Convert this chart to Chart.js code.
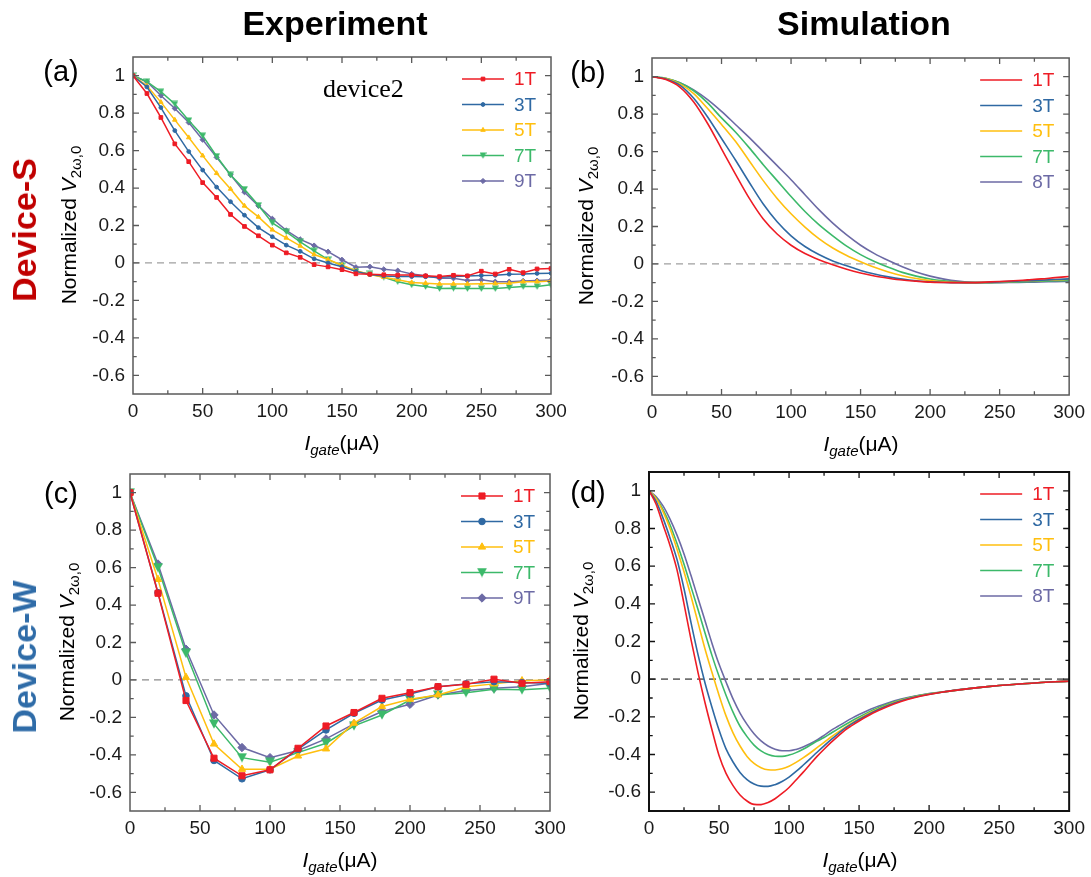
<!DOCTYPE html>
<html>
<head>
<meta charset="utf-8">
<script src="https://cdn.jsdelivr.net/npm/chart.js@4.4.1/dist/chart.umd.min.js"></script>
<style>
  body { margin: 0; width: 1091px; height: 877px; position: relative; overflow: hidden; background: #fff;
         font-family: "Liberation Sans", Arial, sans-serif; }
  canvas { position: absolute; }
  .t { position: absolute; white-space: nowrap; line-height: 1; color: #000; }
  .big { font-weight: bold; font-size: 34px; transform: translate(-50%, -50%); }
  .side { font-weight: bold; font-size: 34px; transform: translate(-50%, -50%) rotate(-90deg); }
  .plab { font-size: 29px; transform: translate(-50%, -50%); }
  .ytit { font-size: 21px; transform: translate(-50%, -50%) rotate(-90deg); }
  .xtit { font-size: 21px; transform: translateX(-50%); }
  .sub { font-size: 15px; position: relative; top: 5px; }
</style>
</head>
<body>
<canvas id="cA" width="580" height="440" style="left:0;top:0"></canvas>
<canvas id="cB" width="511" height="440" style="left:580px;top:0"></canvas>
<canvas id="cC" width="580" height="437" style="left:0;top:440px"></canvas>
<canvas id="cD" width="511" height="437" style="left:580px;top:440px"></canvas>

<div class="t big" style="left:335px;top:23px">Experiment</div>
<div class="t big" style="left:864px;top:23px">Simulation</div>
<div class="t side" style="left:24px;top:230px;color:#c00000">Device-S</div>
<div class="t side" style="left:24px;top:657px;color:#2f6ca8">Device-W</div>

<div class="t plab" style="left:61px;top:71px">(a)</div>
<div class="t plab" style="left:588px;top:72px">(b)</div>
<div class="t plab" style="left:61px;top:493px">(c)</div>
<div class="t plab" style="left:588px;top:492px">(d)</div>

<div class="t ytit" style="left:68px;top:225px">Normalized <i>V</i><span class="sub">2ω,0</span></div>
<div class="t ytit" style="left:585px;top:226px">Normalized <i>V</i><span class="sub">2ω,0</span></div>
<div class="t ytit" style="left:66px;top:642px">Normalized <i>V</i><span class="sub">2ω,0</span></div>
<div class="t ytit" style="left:580px;top:641px">Normalized <i>V</i><span class="sub">2ω,0</span></div>

<div class="t xtit" style="left:342px;top:432px"><i>I</i><span class="sub"><i>gate</i></span>(μA)</div>
<div class="t xtit" style="left:861px;top:433px"><i>I</i><span class="sub"><i>gate</i></span>(μA)</div>
<div class="t xtit" style="left:340px;top:849px"><i>I</i><span class="sub"><i>gate</i></span>(μA)</div>
<div class="t xtit" style="left:860px;top:849px"><i>I</i><span class="sub"><i>gate</i></span>(μA)</div>

<div class="t" style="left:323px;top:76px;font-family:'Liberation Serif','Times New Roman',serif;font-size:26px">device2</div>

<script>
// ---- data ----
const xA = [0, 10, 20, 30, 40, 50, 60, 70, 80, 90, 100, 110, 120, 130, 140, 150, 160, 170, 180, 190, 200, 210, 220, 230, 240, 250, 260, 270, 280, 290, 300];
const a1T = [1, 0.905, 0.777, 0.636, 0.541, 0.429, 0.35, 0.259, 0.195, 0.145, 0.095, 0.054, 0.03, -0.009, -0.021, -0.036, -0.058, -0.06, -0.063, -0.065, -0.065, -0.069, -0.073, -0.066, -0.069, -0.044, -0.059, -0.034, -0.052, -0.032, -0.03];
const a3T = [1, 0.94, 0.83, 0.707, 0.595, 0.496, 0.405, 0.327, 0.255, 0.189, 0.14, 0.095, 0.062, 0.022, 0, -0.02, -0.045, -0.062, -0.07, -0.073, -0.073, -0.074, -0.076, -0.073, -0.07, -0.067, -0.066, -0.06, -0.059, -0.056, -0.055];
const a5T = [1, 0.946, 0.859, 0.764, 0.67, 0.573, 0.479, 0.395, 0.305, 0.246, 0.177, 0.134, 0.091, 0.045, 0.018, -0.012, -0.042, -0.062, -0.076, -0.09, -0.104, -0.108, -0.112, -0.112, -0.112, -0.111, -0.11, -0.108, -0.1, -0.1, -0.096];
const a7T = [1, 0.968, 0.915, 0.849, 0.761, 0.68, 0.57, 0.47, 0.394, 0.308, 0.214, 0.166, 0.112, 0.065, 0.018, -0.014, -0.045, -0.059, -0.076, -0.1, -0.117, -0.126, -0.137, -0.135, -0.137, -0.137, -0.137, -0.131, -0.126, -0.126, -0.117];
const a9T = [1, 0.968, 0.894, 0.825, 0.75, 0.658, 0.564, 0.471, 0.378, 0.305, 0.236, 0.174, 0.126, 0.093, 0.06, 0.017, -0.023, -0.02, -0.034, -0.041, -0.059, -0.069, -0.082, -0.082, -0.094, -0.09, -0.1, -0.1, -0.096, -0.094, -0.091];

const xB = xA;
const b1T = [1, 0.985, 0.945, 0.865, 0.75, 0.615, 0.48, 0.35, 0.24, 0.16, 0.1, 0.056, 0.023, -0.004, -0.028, -0.048, -0.064, -0.076, -0.086, -0.092, -0.097, -0.099, -0.1, -0.1, -0.097, -0.094, -0.09, -0.085, -0.08, -0.073, -0.067];
const b3T = [1, 0.988, 0.955, 0.885, 0.785, 0.67, 0.555, 0.435, 0.32, 0.225, 0.15, 0.093, 0.05, 0.016, -0.01, -0.035, -0.054, -0.069, -0.081, -0.09, -0.096, -0.099, -0.1, -0.1, -0.099, -0.096, -0.093, -0.09, -0.087, -0.083, -0.08];
const b5T = [1, 0.99, 0.962, 0.91, 0.83, 0.745, 0.655, 0.55, 0.445, 0.35, 0.268, 0.197, 0.135, 0.085, 0.045, 0.012, -0.018, -0.043, -0.063, -0.078, -0.089, -0.096, -0.099, -0.1, -0.099, -0.097, -0.094, -0.091, -0.088, -0.085, -0.082];
const b7T = [1, 0.992, 0.968, 0.925, 0.86, 0.78, 0.705, 0.62, 0.53, 0.445, 0.36, 0.28, 0.21, 0.15, 0.095, 0.05, 0.013, -0.018, -0.045, -0.065, -0.08, -0.09, -0.097, -0.1, -0.1, -0.099, -0.097, -0.095, -0.092, -0.09, -0.088];
const b8T = [1, 0.99, 0.968, 0.93, 0.878, 0.815, 0.745, 0.675, 0.6, 0.525, 0.45, 0.37, 0.29, 0.218, 0.155, 0.1, 0.055, 0.018, -0.015, -0.043, -0.065, -0.081, -0.092, -0.098, -0.1, -0.1, -0.099, -0.098, -0.096, -0.095, -0.093];

const xC = [0, 20, 40, 60, 80, 100, 120, 140, 160, 180, 200, 220, 240, 260, 280, 300];
const c1T = [1, 0.463, -0.11, -0.418, -0.512, -0.48, -0.365, -0.246, -0.174, -0.098, -0.068, -0.036, -0.023, 0.004, -0.018, -0.009];
const c3T = [1, 0.466, -0.085, -0.43, -0.528, -0.48, -0.37, -0.267, -0.178, -0.107, -0.075, -0.036, -0.021, -0.009, -0.014, -0.018];
const c5T = [1, 0.537, 0.014, -0.342, -0.477, -0.477, -0.406, -0.368, -0.231, -0.142, -0.103, -0.08, -0.036, -0.021, -0.004, 0];
const c7T = [1, 0.6, 0.142, -0.235, -0.415, -0.44, -0.388, -0.338, -0.245, -0.187, -0.107, -0.08, -0.068, -0.05, -0.053, -0.044];
const c9T = [1, 0.619, 0.164, -0.187, -0.361, -0.415, -0.377, -0.315, -0.235, -0.169, -0.13, -0.08, -0.057, -0.044, -0.036, -0.018];

const xD = [0, 5, 10, 15, 20, 25, 30, 35, 40, 45, 50, 55, 60, 65, 70, 75, 80, 85, 90, 95, 100, 105, 110, 115, 120, 125, 130, 135, 140, 145, 150,
            160, 170, 180, 190, 200, 210, 220, 230, 240, 250, 260, 270, 280, 290, 300];
const d1T = [1, 0.93, 0.82, 0.71, 0.58, 0.4, 0.21, 0.035, -0.125, -0.27, -0.405, -0.5, -0.565, -0.615, -0.647, -0.665, -0.666, -0.655, -0.635, -0.607, -0.575, -0.535, -0.495, -0.452, -0.41, -0.372, -0.336, -0.302, -0.27, -0.245, -0.222,
             -0.18, -0.146, -0.118, -0.097, -0.081, -0.068, -0.058, -0.049, -0.041, -0.034, -0.028, -0.023, -0.018, -0.014, -0.011];
const d3T = [1, 0.945, 0.855, 0.75, 0.635, 0.48, 0.3, 0.13, -0.02, -0.15, -0.27, -0.37, -0.44, -0.495, -0.533, -0.557, -0.568, -0.569, -0.56, -0.543, -0.52, -0.49, -0.457, -0.423, -0.388, -0.354, -0.321, -0.29, -0.26, -0.236, -0.214,
             -0.174, -0.141, -0.115, -0.095, -0.08, -0.068, -0.058, -0.049, -0.041, -0.034, -0.028, -0.023, -0.018, -0.014, -0.011];
const d5T = [1, 0.96, 0.89, 0.8, 0.69, 0.57, 0.44, 0.3, 0.16, 0.035, -0.085, -0.195, -0.285, -0.355, -0.41, -0.447, -0.47, -0.481, -0.482, -0.476, -0.462, -0.442, -0.418, -0.392, -0.364, -0.336, -0.307, -0.281, -0.256, -0.232, -0.21,
             -0.17, -0.138, -0.112, -0.093, -0.079, -0.068, -0.058, -0.049, -0.041, -0.034, -0.028, -0.023, -0.018, -0.014, -0.011];
const d7T = [1, 0.962, 0.9, 0.82, 0.72, 0.61, 0.49, 0.37, 0.245, 0.125, 0.015, -0.085, -0.175, -0.25, -0.305, -0.35, -0.381, -0.4, -0.409, -0.41, -0.403, -0.39, -0.372, -0.351, -0.329, -0.31, -0.287, -0.264, -0.242, -0.221, -0.201,
             -0.163, -0.133, -0.109, -0.091, -0.078, -0.068, -0.058, -0.049, -0.041, -0.034, -0.028, -0.023, -0.018, -0.014, -0.011];
const d8T = [1, 0.97, 0.92, 0.85, 0.765, 0.665, 0.55, 0.43, 0.31, 0.19, 0.08, -0.015, -0.105, -0.18, -0.24, -0.29, -0.328, -0.355, -0.372, -0.38, -0.38, -0.373, -0.36, -0.343, -0.323, -0.298, -0.272, -0.25, -0.228, -0.207, -0.188,
             -0.154, -0.128, -0.106, -0.089, -0.076, -0.067, -0.057, -0.049, -0.041, -0.034, -0.028, -0.023, -0.018, -0.014, -0.011];

const expNames = ['1T', '3T', '5T', '7T', '9T'];
const simNames = ['1T', '3T', '5T', '7T', '8T'];
const colors = ['#ee1c25', '#2f69a3', '#ffbf0f', '#3cb96a', '#6c6aa5'];

const xMajor = [0, 50, 100, 150, 200, 250, 300];
const xMinor = [25, 75, 125, 175, 225, 275];
const yMajor = [-0.6, -0.4, -0.2, 0, 0.2, 0.4, 0.6, 0.8, 1];
const yMinor = [-0.5, -0.3, -0.1, 0.1, 0.3, 0.5, 0.7, 0.9];
const zeroX = [0, 300];
const zeroY = [0, 0];

// ---- helpers ----
Chart.defaults.font.family = '"Liberation Sans", Arial, sans-serif';

function pts(xs, ys) { return xs.map((x, i) => ({ x: x, y: ys[i] })); }

function triDown(size, color) {
  const c = document.createElement('canvas');
  c.width = size; c.height = size;
  const g = c.getContext('2d');
  g.fillStyle = color;
  g.beginPath();
  g.moveTo(0, 0.5); g.lineTo(size, 0.5); g.lineTo(size / 2, size - 0.3);
  g.closePath(); g.fill();
  return c;
}

function makeDeco(cfg) {
  return {
    id: 'deco',
    afterDatasetsDraw(chart) {
      const ctx = chart.ctx, a = chart.chartArea;
      const xs = chart.scales.x, ys = chart.scales.y;
      ctx.save();
      ctx.strokeStyle = cfg.frame;
      ctx.lineWidth = cfg.frameWidth;
      ctx.strokeRect(a.left, a.top, a.right - a.left, a.bottom - a.top);
      // inward ticks on all four sides
      ctx.lineWidth = 1.3;
      ctx.beginPath();
      const xt = (vals, len) => vals.forEach(v => {
        const p = xs.getPixelForValue(v);
        ctx.moveTo(p, a.bottom); ctx.lineTo(p, a.bottom - len);
        ctx.moveTo(p, a.top); ctx.lineTo(p, a.top + len);
      });
      const yt = (vals, len) => vals.forEach(v => {
        const p = ys.getPixelForValue(v);
        ctx.moveTo(a.left, p); ctx.lineTo(a.left + len, p);
        ctx.moveTo(a.right, p); ctx.lineTo(a.right - len, p);
      });
      xt(xMajor.slice(1, -1), 6); xt(xMinor, 3.7);
      yt(yMajor, 6); yt(yMinor, 3.7);
      ctx.stroke();

      // legend: line (+ marker) and coloured label
      ctx.font = '19px "Liberation Sans", Arial, sans-serif';
      ctx.textBaseline = 'middle';
      ctx.textAlign = 'left';
      chart.data.datasets.forEach(ds => {
        if (ds.legendRow === undefined) return;
        const yy = a.top + 22 + ds.legendRow * 25.5;
        ctx.strokeStyle = ds.borderColor;
        ctx.fillStyle = ds.borderColor;
        ctx.lineWidth = ds.borderWidth;
        ctx.setLineDash([]);
        ctx.beginPath();
        ctx.moveTo(a.right - 89, yy); ctx.lineTo(a.right - 47, yy);
        ctx.stroke();
        if (ds.pointRadius > 0 && Chart.helpers && Chart.helpers.drawPoint) {
          ctx.lineWidth = 1;
          Chart.helpers.drawPoint(ctx, { pointStyle: ds.pointStyle, radius: ds.pointRadius, rotation: 0, borderWidth: 1 }, a.right - 68, yy);
        }
        ctx.fillStyle = ds.borderColor;
        ctx.fillText(ds.label, a.right - 37, yy + 1);
      });
      ctx.restore();
    }
  };
}

function makePanel(id, area, canvasBox, series, cfg) {
  const yW = 60, xH = 30;
  const datasets = series.map((s, i) => ({
    label: s.name,
    data: pts(s.x, s.y),
    borderColor: colors[i],
    backgroundColor: colors[i],
    borderWidth: cfg.lineWidth,
    pointStyle: cfg.styles ? cfg.styles[i] : 'circle',
    pointRadius: cfg.styles ? cfg.radii[i] : 0,
    pointBorderWidth: 1,
    pointHoverRadius: 0,
    tension: cfg.smooth ? 0.4 : 0,
    cubicInterpolationMode: cfg.smooth ? 'monotone' : 'default',
    legendRow: i,
    order: 1
  }));
  datasets.push({
    label: 'zero',
    data: pts(zeroX, zeroY),
    borderColor: cfg.zeroColor,
    borderWidth: cfg.zeroWidth,
    borderDash: [7, 5],
    pointRadius: 0,
    pointHoverRadius: 0,
    order: 10
  });
  return new Chart(document.getElementById(id), {
    type: 'line',
    data: { datasets: datasets },
    plugins: [makeDeco(cfg)],
    options: {
      responsive: false,
      animation: false,
      events: [],
      layout: {
        padding: {
          left: area.L - canvasBox.x - yW,
          top: area.T - canvasBox.y,
          right: canvasBox.x + canvasBox.w - area.R,
          bottom: canvasBox.y + canvasBox.h - area.B - xH
        }
      },
      plugins: { legend: { display: false }, tooltip: { enabled: false } },
      scales: {
        x: {
          type: 'linear', min: 0, max: 300,
          grid: { display: false, drawTicks: false },
          border: { display: false },
          afterBuildTicks: s => { s.ticks = xMajor.map(v => ({ value: v })); },
          afterFit: s => { s.height = xH; },
          ticks: { color: '#1a1a1a', font: { size: 19 }, padding: 6, maxRotation: 0, autoSkip: false }
        },
        y: {
          type: 'linear', min: -0.7, max: 1.1,
          grid: { display: false, drawTicks: false },
          border: { display: false },
          afterBuildTicks: s => { s.ticks = yMajor.map(v => ({ value: v })); },
          afterFit: s => { s.width = yW; },
          ticks: {
            color: '#1a1a1a', font: { size: 19 }, padding: 8, autoSkip: false,
            callback: v => String(Math.round(v * 10) / 10)
          }
        }
      }
    }
  });
}

// ---- panels ----
const expStylesA = ['rect', 'circle', 'triangle', triDown(7, colors[3]), 'rectRot'];
const expStylesC = ['rect', 'circle', 'triangle', triDown(10, colors[3]), 'rectRot'];

makePanel('cA', { L: 133, T: 57, R: 551, B: 394 }, { x: 0, y: 0, w: 580, h: 440 },
  [a1T, a3T, a5T, a7T, a9T].map((y, i) => ({ name: expNames[i], x: xA, y: y })),
  { lineWidth: 1.5, styles: expStylesA, radii: [2.6, 1.9, 2.6, 3, 2.6], smooth: false,
    frame: '#5a5a5a', frameWidth: 1.5, zeroColor: '#a0a0a0', zeroWidth: 1.2 });

makePanel('cB', { L: 652, T: 58, R: 1070, B: 395 }, { x: 580, y: 0, w: 511, h: 440 },
  [b1T, b3T, b5T, b7T, b8T].map((y, i) => ({ name: simNames[i], x: xB, y: y })),
  { lineWidth: 1.6, smooth: true,
    frame: '#5a5a5a', frameWidth: 1.5, zeroColor: '#a0a0a0', zeroWidth: 1.2 });

makePanel('cC', { L: 130, T: 474, R: 550, B: 811 }, { x: 0, y: 440, w: 580, h: 437 },
  [c1T, c3T, c5T, c7T, c9T].map((y, i) => ({ name: expNames[i], x: xC, y: y })),
  { lineWidth: 1.5, styles: expStylesC, radii: [4.3, 3.3, 4.2, 5, 4.2], smooth: false,
    frame: '#5a5a5a', frameWidth: 1.5, zeroColor: '#8a8a8a', zeroWidth: 1.2 });

makePanel('cD', { L: 649, T: 472, R: 1070, B: 811 }, { x: 580, y: 440, w: 511, h: 437 },
  [d1T, d3T, d5T, d7T, d8T].map((y, i) => ({ name: simNames[i], x: xD, y: y })),
  { lineWidth: 1.6, smooth: true,
    frame: '#111111', frameWidth: 2, zeroColor: '#707070', zeroWidth: 1.6 });
</script>
</body>
</html>
